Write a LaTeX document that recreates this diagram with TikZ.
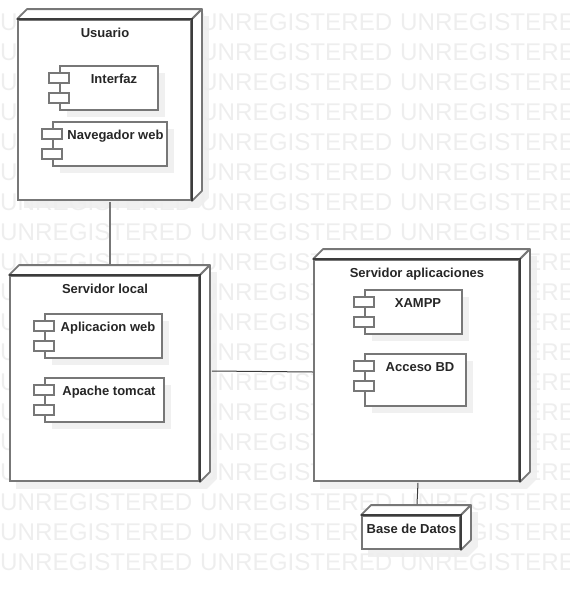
\documentclass[tikz,border=0pt]{standalone}
\usepackage{fontspec}
\setmainfont{Liberation Sans}
\usetikzlibrary{backgrounds,shadows}
\definecolor{marca}{HTML}{EEEEEE}
\definecolor{sombra}{HTML}{F0F0F0}
\definecolor{borde}{HTML}{777777}
\definecolor{oscuro}{HTML}{3C3C3C}
\begin{document}
\begin{tikzpicture}[x=1pt, y=-1pt]
    % Styles
    \tikzset{caja/.style={draw=borde, line width=1.8pt, fill=white, inner sep=0pt}}%
    \tikzset{componente/.style={caja, general shadow={fill=sombra, shadow xshift=7pt, shadow yshift=-7pt}}}%
    \tikzset{puerto/.style={caja, minimum width=20pt, minimum height=10pt}}%
    \tikzset{titulo/.style={font=\bfseries\fontsize{13}{15}\selectfont, text=black!85, anchor=base}}%
    \tikzset{enlace/.style={draw=oscuro, line width=1pt}}%
    \tikzset{canto/.style={draw=borde, line width=1.8pt, fill=white, line join=round}}%

    \useasboundingbox (0,0) rectangle (570,590);%

    % Marca de agua
    \begin{scope}
        \clip (0,0) rectangle (570,590);%
        \foreach \fila in {0,...,18}{%
            \foreach \col in {0,1,2}{%
                \node[text=marca, font=\fontsize{24.2}{30}\selectfont, anchor=west, inner sep=0pt]
                    (marca \fila-\col) at (200*\col,22+30*\fila) {UNREGISTERED};%
            }%
        }%
    \end{scope}

    % Nodos
    \node[caja, minimum width=173pt, minimum height=180pt] (usuario) at (104.5,110) {};%
    \node[caja, minimum width=189pt, minimum height=205pt] (local) at (104.5,378.5) {};%
    \node[caja, minimum width=205pt, minimum height=221pt] (aplicaciones) at (416.5,370.5) {};%
    \node[caja, minimum width=98pt, minimum height=33pt] (datos) at (411,532.5) {};%

    % Caras laterales
    \foreach \n/\d in {usuario/10,local/10,aplicaciones/10,datos/10}{%
        \begin{scope}[on background layer]
            \fill[sombra] ([shift={(7,7)}]\n.north west) -- ([shift={(\d+7,7-\d)}]\n.north west)
                -- ([shift={(\d+7,7-\d)}]\n.north east) -- ([shift={(\d+7,7-\d)}]\n.south east)
                -- ([shift={(7,7)}]\n.south east) -- ([shift={(7,7)}]\n.south west) -- cycle;%
        \end{scope}
        \draw[canto] (\n.north west) -- ([shift={(\d,-\d)}]\n.north west)
            -- ([shift={(\d,-\d)}]\n.north east) -- (\n.north east) -- cycle;%
        \draw[canto] (\n.north east) -- ([shift={(\d,-\d)}]\n.north east)
            -- ([shift={(\d,-\d)}]\n.south east) -- (\n.south east) -- cycle;%
        \draw[oscuro, line width=1.8pt] (\n.north west) -- (\n.north east) -- (\n.south east);%
    }%

    % Componentes
    \foreach \n/\x/\y/\w/\h in {interfaz/109/88/98/44, navegador/110/144/114/44,
        aplicacion/103.5/336/117/44, apache/104.5/400/119/44,
        xampp/413.5/312/97/44, acceso/415.5/380/101/52}{%
        \node[componente, minimum width=\w pt, minimum height=\h pt] (\n) at (\x,\y) {};%
        \node[puerto, anchor=north] (\n 1) at ([yshift=-7pt]\n.north west) {};%
        \node[puerto, anchor=north] (\n 2) at ([yshift=-27pt]\n.north west) {};%
    }%

    % Textos
    \node[titulo] (t usuario) at (105,37) {Usuario};%
    \node[titulo] (t interfaz) at (114,83) {Interfaz};%
    \node[titulo] (t navegador) at (115.5,139) {Navegador web};%
    \node[titulo] (t local) at (105,293) {Servidor local};%
    \node[titulo] (t aplicacion) at (108,331) {Aplicacion web};%
    \node[titulo] (t apache) at (109,395) {Apache tomcat};%
    \node[titulo] (t aplicaciones) at (417,277) {Servidor aplicaciones};%
    \node[titulo] (t xampp) at (418,307) {XAMPP};%
    \node[titulo] (t acceso) at (420,371) {Acceso BD};%
    \node[titulo] (t datos) at (411.5,533) {Base de Datos};%

    % Conexiones
    \draw[enlace, draw=borde, line width=1.8pt] ([shift={(5.5,1)}]usuario.south) -- ([shift={(5.5,-11)}]local.north);%
    \draw[enlace] ([shift={(12,-7.5)}]local.east) -- ([yshift=-1.5pt]aplicaciones.west);%
    \draw[enlace] ([shift={(1.5,1)}]aplicaciones.south) -- ([shift={(6,-11)}]datos.north);%
\end{tikzpicture}
\end{document}
